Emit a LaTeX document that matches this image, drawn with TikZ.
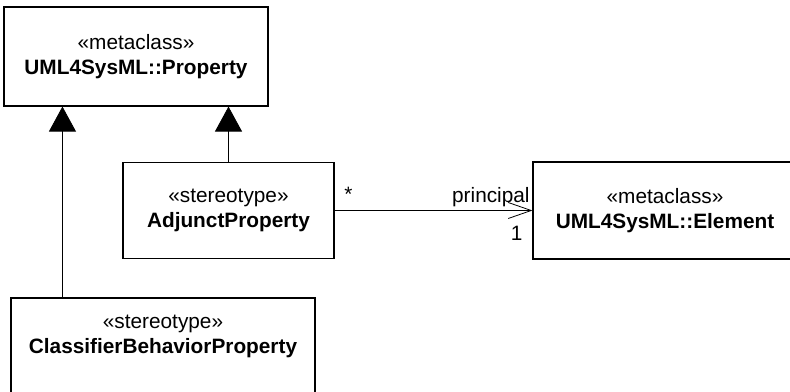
\documentclass[tikz,border=0pt]{standalone}
\usepackage{fontspec}
\setmainfont{Liberation Sans}
\usepackage{tikz}
\usetikzlibrary{positioning,arrows.meta}
\newcommand{\stereo}[2]{«#1»\\\textbf{#2}}

\begin{document}
\begin{tikzpicture}[x=1pt, y=-1pt,
    umlbox/.style={draw, line width=1.1pt, rectangle, align=center, inner sep=0pt,
      font=\fontsize{20.8}{25}\selectfont},
    generalize/.style={line width=0.8pt, -{Triangle[length=25pt, width=27pt]}},
    assoc/.style={line width=0.8pt, -{Straight Barb[length=23pt, width=16pt]}},
    mult/.style={font=\fontsize{20.8}{25}\selectfont, inner sep=0pt}]
  \useasboundingbox (0,0) rectangle (790,391);
  \clip (0,0) rectangle (790,391);
  % classes
  \node[umlbox, minimum width=264pt, minimum height=99pt] (prop) at (136,56.5)
    {\stereo{metaclass}{UML4SysML::Property}};
  \node[umlbox, minimum width=211pt, minimum height=96pt] (adj) at (228.5,210.5)
    {\stereo{stereotype}{AdjunctProperty}};
  \node[umlbox, minimum width=264pt, minimum height=97pt] (elem) at (665,210.5)
    {\stereo{metaclass}{UML4SysML::Element}};
  \node[umlbox, minimum width=304pt, minimum height=112pt] (cbp) at (163,354)
    {\raisebox{18pt}[\height][\depth]{\begin{tabular}{@{}c@{}}«stereotype»\\\textbf{ClassifierBehaviorProperty}\end{tabular}}};
  % generalizations
  \draw[generalize] ([xshift=52pt]cbp.north west) -- ([xshift=52pt]cbp.north west |- prop.south);
  \draw[generalize] (adj.north) -- (adj.north |- prop.south);
  % association
  \draw[assoc] (adj.east) -- (elem.west)
    node[mult, pos=0.07, above=9pt] {*}
    node[mult, pos=0.79, above=3pt] {principal}
    node[mult, pos=0.92, below=15pt] {1};
\end{tikzpicture}
\end{document}
